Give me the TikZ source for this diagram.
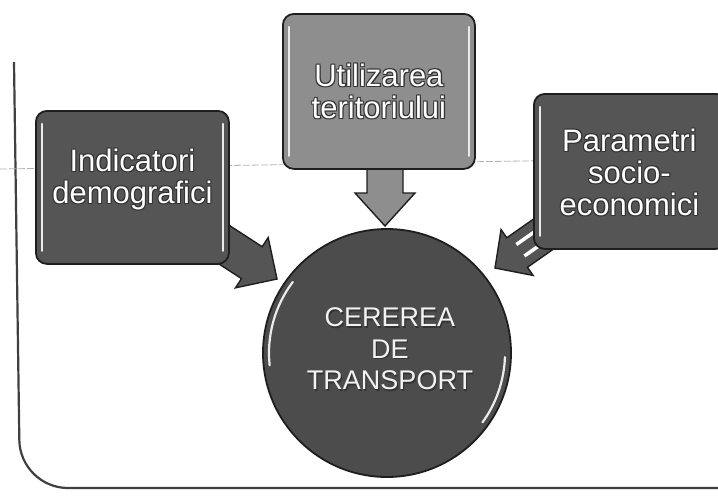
\documentclass[tikz,border=0pt]{standalone}
\usepackage{fontspec}
\setmainfont{Liberation Sans}
\definecolor{boxlight}{HTML}{8E8E8E}
\definecolor{boxdark}{HTML}{555555}
\definecolor{circdark}{HTML}{4C4C4C}
\definecolor{edgecol}{HTML}{1E1E1E}
\tikzset{
  boxshape/.style={draw=edgecol, line width=1.8pt, rounded corners=11pt, anchor=north west, inner sep=0pt},
  lbl/.style={text=white, align=center, font=\fontsize{31}{32}\selectfont},
  shd/.style={text=black!80, align=center, font=\fontsize{31}{32}\selectfont},
  clbl/.style={text=white!95!black, align=center, font=\fontsize{27}{31.5}\selectfont},
  cshd/.style={text=black!80, align=center, font=\fontsize{27}{31.5}\selectfont},
  hl/.style={draw=white!92!black, line width=2.2pt, line cap=round},
  blockarr/.style={draw=edgecol, line width=1.4pt, line join=miter},
  framestyle/.style={draw=black!75, line width=2.2pt, rounded corners=48pt},
}
\begin{document}
\begin{tikzpicture}[x=1pt,y=-1pt]
\clip (0,0) rectangle (718,499);
\fill[white] (0,0) rectangle (718,499);
% frame and ruled line
\draw[framestyle] (14,62) -- (20,488) -- (760,488);
\draw[gray!60, line width=0.8pt, dash pattern=on 7pt off 2pt] (0,169) -- (718,158);
% block arrows
\coordinate (tipD) at (385,226);
\coordinate (tipL) at (277,279);
\coordinate (tipR) at (495,268);
\begin{scope}[shift={(tipD)}, rotate=-90]
  \draw[blockarr, fill=boxlight] (0,0) -- (-33,30) -- (-33,18) -- (-70,18) -- (-70,-18) -- (-33,-18) -- (-33,-30) -- cycle;
\end{scope}
\begin{scope}[shift={(tipL)}, rotate=-33]
  \draw[blockarr, fill=boxdark] (0,0) -- (-30,30) -- (-30,19) -- (-85,19) -- (-85,-19) -- (-30,-19) -- (-30,-30) -- cycle;
\end{scope}
\begin{scope}[shift={(tipR)}, rotate=215]
  \draw[blockarr, fill=boxdark] (0,0) -- (-27,28) -- (-27,18) -- (-85,18) -- (-85,-18) -- (-27,-18) -- (-27,-28) -- cycle;
  \draw[white, line width=3.5pt] (-31,7) -- (-66,7);
  \draw[white, line width=3.5pt] (-31,-7) -- (-66,-7);
\end{scope}
% boxes
\node (util) [boxshape, fill=boxlight, minimum width=192pt, minimum height=155pt] at (282,13) {};
\node (indic) [boxshape, fill=boxdark, minimum width=193pt, minimum height=153pt] at (35,110) {};
\node (param) [boxshape, fill=boxdark, minimum width=193pt, minimum height=155pt] at (533,93) {};
% box highlights
\foreach \b in {util,indic,param}{
  \draw[hl] ([xshift=7pt,yshift=-14pt]\b.north west) -- ([xshift=7pt,yshift=14pt]\b.south west);
  \draw[hl] ([xshift=-7pt,yshift=-14pt]\b.north east) -- ([xshift=-7pt,yshift=14pt]\b.south east);
}
% label outlines
\foreach \dx/\dy [count=\k] in {1.1/1.1,-0.9/1.1,1.1/-0.9,-0.9/-0.9}{
  \node (utilS\k) [shd] at ([shift={(\dx,\dy)}]util.center) {Utilizarea\\teritoriului};
  \node (indicS\k) [shd] at ([shift={(\dx,\dy-8)}]indic.center) {Indicatori\\demografici};
  \node (paramS\k) [shd] at ([shift={(\dx-1,\dy+1)}]param.center) {Parametri\\socio-\\economici};
}
\node (utilT) [lbl] at (util.center) {Utilizarea\\teritoriului};
\node (indicT) [lbl] at ([shift={(0,-8)}]indic.center) {Indicatori\\demografici};
\node (paramT) [lbl] at ([shift={(-1,1)}]param.center) {Parametri\\socio-\\economici};
% circle
\node (cer) [circle, draw=edgecol, line width=1.8pt, fill=circdark, minimum size=248pt, inner sep=0pt] at (387,353) {};
\draw[hl] ([shift={(143:118pt)}]cer.center) arc[start angle=143, end angle=186, radius=118pt];
\draw[hl] ([shift={(-36:118pt)}]cer.center) arc[start angle=-36, end angle=-2, radius=118pt];
\node (cerS) [cshd] at ([shift={(4.2,-2.8)}]cer.center) {CEREREA\\DE\\TRANSPORT};
\node (cerT) [clbl] at ([shift={(3,-4)}]cer.center) {CEREREA\\DE\\TRANSPORT};
\end{tikzpicture}
\end{document}
